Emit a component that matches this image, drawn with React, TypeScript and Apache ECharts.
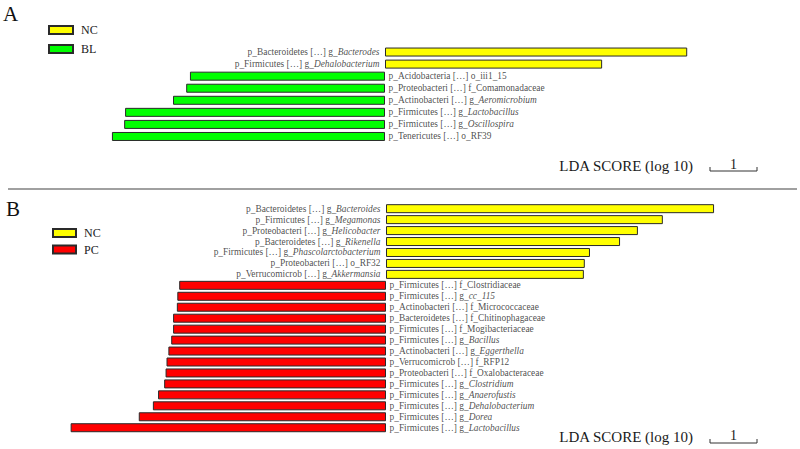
import React, { useEffect, useRef } from "react";
import * as echarts from "echarts";

const FONT = "'Liberation Serif', 'Times New Roman', serif";
const LABEL_SIZE = 9.4;

// Panel A: NC vs BL
const aPrefix = [
  "p_Bacteroidetes […] g_",
  "p_Firmicutes […] g_",
  "p_Acidobacteria […] o_iii1_15",
  "p_Proteobacteri […] f_Comamonadaceae",
  "p_Actinobacteri […] g_",
  "p_Firmicutes […] g_",
  "p_Firmicutes […] g_",
  "p_Tenericutes […] o_RF39",
];
const aItalic = ["Bacterodes", "Dehalobacterium", "", "", "Aeromicrobium", "Lactobacillus", "Oscillospira", ""];
const aScores = [6.43, 4.62, 4.15, 4.23, 4.51, 5.53, 5.55, 5.81];
const aGroups = ["NC", "NC", "BL", "BL", "BL", "BL", "BL", "BL"];

// Panel B: NC vs PC
const bPrefix = [
  "p_Bacteroidetes […] g_",
  "p_Firmicutes […] g_",
  "p_Proteobacteri […] g_",
  "p_Bacteroidetes […] g_",
  "p_Firmicutes […] g_",
  "p_Proteobacteri […] o_RF32",
  "p_Verrucomicrob […] g_",
  "p_Firmicutes […] f_Clostridiaceae",
  "p_Firmicutes […] g_",
  "p_Actinobacteri […] f_Micrococcaceae",
  "p_Bacteroidetes […] f_Chitinophagaceae",
  "p_Firmicutes […] f_Mogibacteriaceae",
  "p_Firmicutes […] g_",
  "p_Actinobacteri […] g_",
  "p_Verrucomicrob […] f_RFP12",
  "p_Proteobacteri […] f_Oxalobacteraceae",
  "p_Firmicutes […] g_",
  "p_Firmicutes […] g_",
  "p_Firmicutes […] g_",
  "p_Firmicutes […] g_",
  "p_Firmicutes […] g_",
];
const bItalic = [
  "Bacteroides", "Megamonas", "Helicobacter", "Rikenella", "Phascolarctobacterium", "", "Akkermansia",
  "", "cc_115", "", "", "", "Bacillus", "Eggerthella", "", "", "Clostridium", "Anaerofustis",
  "Dehalobacterium", "Dorea", "Lactobacillus",
];
const bScores = [
  6.98, 5.89, 5.36, 4.98, 4.34, 4.23, 4.21,
  4.40, 4.44, 4.45, 4.53, 4.53, 4.57, 4.63, 4.67, 4.69, 4.72, 4.85, 4.96, 5.26, 6.71,
];
const bGroups = [
  "NC", "NC", "NC", "NC", "NC", "NC", "NC",
  "PC", "PC", "PC", "PC", "PC", "PC", "PC", "PC", "PC", "PC", "PC", "PC", "PC", "PC",
];

const COLORS: Record<string, string> = { NC: "#FFFF00", BL: "#00FF00", PC: "#FF0000" };

function panelSeries(
  idx: number,
  prefix: string[],
  italic: string[],
  scores: number[],
  groups: string[],
  pos: string,
  neg: string
) {
  const cats = prefix.map((p, i) => p + italic[i]);
  const bar = (g: string, sign: number) => ({
    type: "bar",
    name: g,
    xAxisIndex: idx,
    yAxisIndex: idx,
    stack: "s" + idx,
    barWidth: 9,
    silent: true,
    itemStyle: { color: COLORS[g], borderColor: "#2a2a2a", borderWidth: 1 },
    data: scores.map((v, i) => (groups[i] === g ? sign * v : "-")),
  });
  const labels = {
    type: "scatter",
    name: "labels" + idx,
    xAxisIndex: idx,
    yAxisIndex: idx,
    silent: true,
    symbolSize: 1,
    itemStyle: { color: "rgba(0,0,0,0)" },
    data: cats.map((c, i) => ({
      value: [0, c],
      label: {
        show: true,
        position: groups[i] === pos ? "left" : "right",
        distance: groups[i] === pos ? 5 : 3,
      },
    })),
    label: {
      show: true,
      color: "#1a1a1a",
      fontFamily: FONT,
      fontSize: LABEL_SIZE,
      formatter: (p: any) => {
        const i = p.dataIndex;
        return "{n|" + prefix[i] + "}" + (italic[i] ? "{i|" + italic[i] + "}" : "");
      },
      rich: {
        n: { fontFamily: FONT, fontSize: LABEL_SIZE, color: "#1a1a1a" },
        i: { fontFamily: FONT, fontSize: LABEL_SIZE, color: "#1a1a1a", fontStyle: "italic" },
      },
    },
  };
  return { cats, series: [bar(pos, 1), bar(neg, -1), labels] };
}

export default function App() {
  const ref = useRef<HTMLDivElement>(null);
  useEffect(() => {
    document.body.style.margin = "0";
    const chart = echarts.init(ref.current!, undefined, { renderer: "svg" });
    const A = panelSeries(0, aPrefix, aItalic, aScores, aGroups, "NC", "BL");
    const B = panelSeries(1, bPrefix, bItalic, bScores, bGroups, "NC", "PC");
    const xAxis = (i: number) => ({
      type: "value",
      gridIndex: i,
      min: -8,
      max: 8,
      show: false,
    });
    const yAxis = (i: number, cats: string[]) => ({
      type: "category",
      gridIndex: i,
      data: cats,
      inverse: true,
      show: false,
    });
    chart.setOption({
      animation: false,
      backgroundColor: "#ffffff",
      grid: [
        { left: 9, width: 752, top: 46, height: 96.5 },
        { left: 10, width: 752, top: 203.2, height: 230 },
      ],
      xAxis: [xAxis(0), xAxis(1)],
      yAxis: [yAxis(0, A.cats), yAxis(1, B.cats)],
      legend: [
        {
          data: ["NC", "BL"],
          orient: "vertical",
          left: 48,
          top: 23,
          padding: 0,
          itemWidth: 24,
          itemHeight: 8,
          itemGap: 5,
          selectedMode: false,
          icon: "rect",
          textStyle: { fontFamily: FONT, fontSize: 12, color: "#1a1a1a", lineHeight: 14, padding: [0, 0, 0, 3] },
        },
        {
          data: ["NC", "PC"],
          orient: "vertical",
          left: 52,
          top: 226,
          padding: 0,
          itemWidth: 23,
          itemHeight: 8,
          itemGap: 2.5,
          selectedMode: false,
          icon: "rect",
          textStyle: { fontFamily: FONT, fontSize: 12, color: "#1a1a1a", lineHeight: 14, padding: [0, 0, 0, 3] },
        },
      ],
      series: [...A.series, ...B.series],
    });

    const scaleBar = (gi: number, x0: number, yLine: number, yText: number, yOne: number) => {
      const z = chart.convertToPixel({ xAxisIndex: gi }, 0) as number;
      const u = (chart.convertToPixel({ xAxisIndex: gi }, 1) as number) - z;
      return [
        {
          type: "text",
          style: {
            text: "LDA SCORE (log 10)",
            x: x0 - 17,
            y: yText,
            align: "right",
            verticalAlign: "middle",
            fontFamily: FONT,
            fontSize: 15,
            fill: "#1a1a1a",
          },
        },
        {
          type: "polyline",
          shape: { points: [[x0, yLine - 4], [x0, yLine], [x0 + u, yLine], [x0 + u, yLine - 4]] },
          style: { stroke: "#333", lineWidth: 1, fill: "none" },
        },
        {
          type: "text",
          style: {
            text: "1",
            x: x0 + u / 2,
            y: yOne,
            align: "center",
            verticalAlign: "middle",
            fontFamily: FONT,
            fontSize: 14,
            fill: "#1a1a1a",
          },
        },
      ];
    };

    chart.setOption({
      graphic: [
        { type: "text", style: { text: "A", x: 3, y: 14, verticalAlign: "middle", fontFamily: FONT, fontSize: 21, fill: "#111" } },
        { type: "text", style: { text: "B", x: 6, y: 209, verticalAlign: "middle", fontFamily: FONT, fontSize: 21, fill: "#111" } },
        { type: "line", shape: { x1: 8, y1: 189, x2: 797, y2: 189 }, style: { stroke: "#808080", lineWidth: 1.5 } },
        ...scaleBar(0, 710, 171, 166, 164),
        ...scaleBar(1, 710, 443, 437, 435),
      ],
    });
    return () => chart.dispose();
  }, []);
  return <div ref={ref} style={{ position: "fixed", left: 0, top: 0, width: 800, height: 449 }} />;
}
